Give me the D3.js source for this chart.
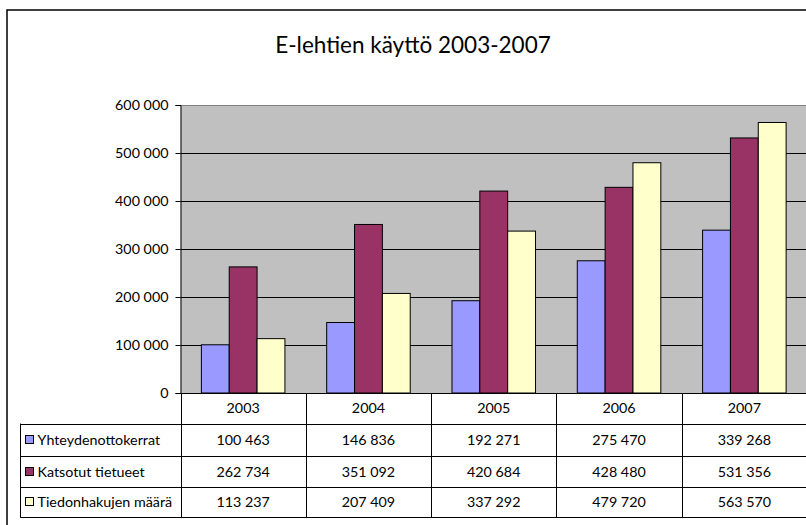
<!DOCTYPE html>
<html>
<head>
<meta charset="utf-8">
<script src="https://cdn.jsdelivr.net/npm/d3@7"></script>
<style>
  body { margin: 0; background: #fff; }
  svg text { font-family: Lato, "Open Sans", sans-serif; fill: #000; }
</style>
</head>
<body>
<svg id="chart"></svg>
<script>
const title = "E-lehtien käyttö 2003-2007"
const years = ["2003", "2004", "2005", "2006", "2007"]
const seriesNames = ["Yhteydenottokerrat", "Katsotut tietueet", "Tiedonhakujen määrä"]
const seriesColors = ["#9999ff", "#993366", "#ffffcc"]
const yhteydenotot = [100463, 146836, 192271, 275470, 339268]
const katsotut = [262734, 351092, 420684, 428480, 531356]
const tiedonhaut = [113237, 207409, 337292, 479720, 563570]
const yTicks = [0, 100000, 200000, 300000, 400000, 500000, 600000]

const series = [yhteydenotot, katsotut, tiedonhaut]

const width = 806, height = 525
const plot = {left: 180.5, top: 105, right: 807, bottom: 393}
const rowH = [30.5, 32.5, 31.3, 30]
const tableLeft = 20.5
const fs = 14.3

const svg = d3.select("#chart")
  .attr("width", width)
  .attr("height", height)

const fmt = d3.formatLocale({decimal: ",", thousands: " ", grouping: [3], currency: ["", ""]}).format(",d")

// outer frame (runs off the right and bottom edges)
svg.append("rect")
  .attr("x", 7).attr("y", 10)
  .attr("width", 830).attr("height", 540)
  .attr("fill", "none").attr("stroke", "#000").attr("stroke-width", 1.5)

svg.append("text")
  .attr("x", 413).attr("y", 53)
  .attr("text-anchor", "middle")
  .attr("font-size", 22.5)
  .text(title)

const x0 = d3.scaleBand().domain(years).range([plot.left, plot.right])
const x1 = d3.scaleBand().domain(d3.range(series.length))
  .range([0, x0.bandwidth()]).paddingInner(0).paddingOuter(0.75)
const y = d3.scaleLinear().domain([0, 600000]).range([plot.bottom, plot.top])

// plot area
svg.append("rect")
  .attr("x", plot.left).attr("y", plot.top)
  .attr("width", plot.right - plot.left).attr("height", plot.bottom - plot.top)
  .attr("fill", "#c0c0c0")

svg.append("line")
  .attr("x1", plot.left).attr("x2", plot.right)
  .attr("y1", y(600000) + 0.5).attr("y2", y(600000) + 0.5)
  .attr("stroke", "#808080")

svg.append("g")
  .selectAll("line")
  .data(yTicks.slice(1, -1))
  .enter().append("line")
  .attr("x1", plot.left).attr("x2", plot.right)
  .attr("y1", d => Math.round(y(d)) + 0.5)
  .attr("y2", d => Math.round(y(d)) + 0.5)
  .attr("stroke", "#000")

// bars
series.forEach((vals, i) => {
  svg.append("g")
    .selectAll("rect")
    .data(vals)
    .enter().append("rect")
    .attr("x", (d, j) => x0(years[j]) + x1(i))
    .attr("y", d => y(d))
    .attr("width", x1.bandwidth())
    .attr("height", d => y(0) - y(d))
    .attr("fill", seriesColors[i])
    .attr("stroke", "#000")
    .attr("stroke-width", 1)
})

// y axis
const yAxis = svg.append("g")
  .attr("transform", `translate(${plot.left},0)`)
  .call(d3.axisLeft(y).tickValues(yTicks).tickFormat(fmt).tickSize(5).tickPadding(7))
yAxis.select(".domain").attr("stroke", "#000")
yAxis.selectAll(".tick line").attr("stroke", "#000")
yAxis.selectAll(".tick text")
  .attr("font-family", "Lato, sans-serif")
  .attr("font-size", fs)
  .attr("fill", "#000")

// data table
const rowY = [plot.bottom]
rowH.forEach(h => rowY.push(rowY[rowY.length - 1] + h))

const table = svg.append("g").attr("stroke", "#000").attr("stroke-width", 1)

table.selectAll("line.h")
  .data(rowY.slice(1))
  .enter().append("line")
  .attr("x1", tableLeft).attr("x2", plot.right)
  .attr("y1", d => Math.round(d) + 0.5).attr("y2", d => Math.round(d) + 0.5)

table.append("line")
  .attr("x1", plot.left).attr("x2", plot.right)
  .attr("y1", plot.bottom + 0.5).attr("y2", plot.bottom + 0.5)

table.append("line")
  .attr("x1", tableLeft).attr("x2", tableLeft)
  .attr("y1", rowY[1]).attr("y2", rowY[4] + 0.5)

table.selectAll("line.v")
  .data(years)
  .enter().append("line")
  .attr("x1", d => Math.round(x0(d)) + 0.5).attr("x2", d => Math.round(x0(d)) + 0.5)
  .attr("y1", plot.bottom).attr("y2", rowY[4] + 0.5)

svg.append("g")
  .selectAll("text")
  .data(years)
  .enter().append("text")
  .attr("x", d => x0(d) + x0.bandwidth() / 2)
  .attr("y", (rowY[0] + rowY[1]) / 2 + 5)
  .attr("text-anchor", "middle")
  .attr("font-size", fs)
  .text(d => d)

series.forEach((vals, i) => {
  const cy = (rowY[i + 1] + rowY[i + 2]) / 2
  const row = svg.append("g")
  row.append("rect")
    .attr("x", 25.5).attr("y", Math.round(cy - 5) + 0.5)
    .attr("width", 8).attr("height", 8)
    .attr("fill", seriesColors[i]).attr("stroke", "#000")
  row.append("text")
    .attr("x", 37.5).attr("y", cy + 5)
    .attr("font-size", fs)
    .text(seriesNames[i])
  row.selectAll("text.v")
    .data(vals)
    .enter().append("text")
    .attr("x", (d, j) => x0(years[j]) + x0.bandwidth() / 2)
    .attr("y", cy + 5)
    .attr("text-anchor", "middle")
    .attr("font-size", fs)
    .text(d => fmt(d))
})
</script>
</body>
</html>
